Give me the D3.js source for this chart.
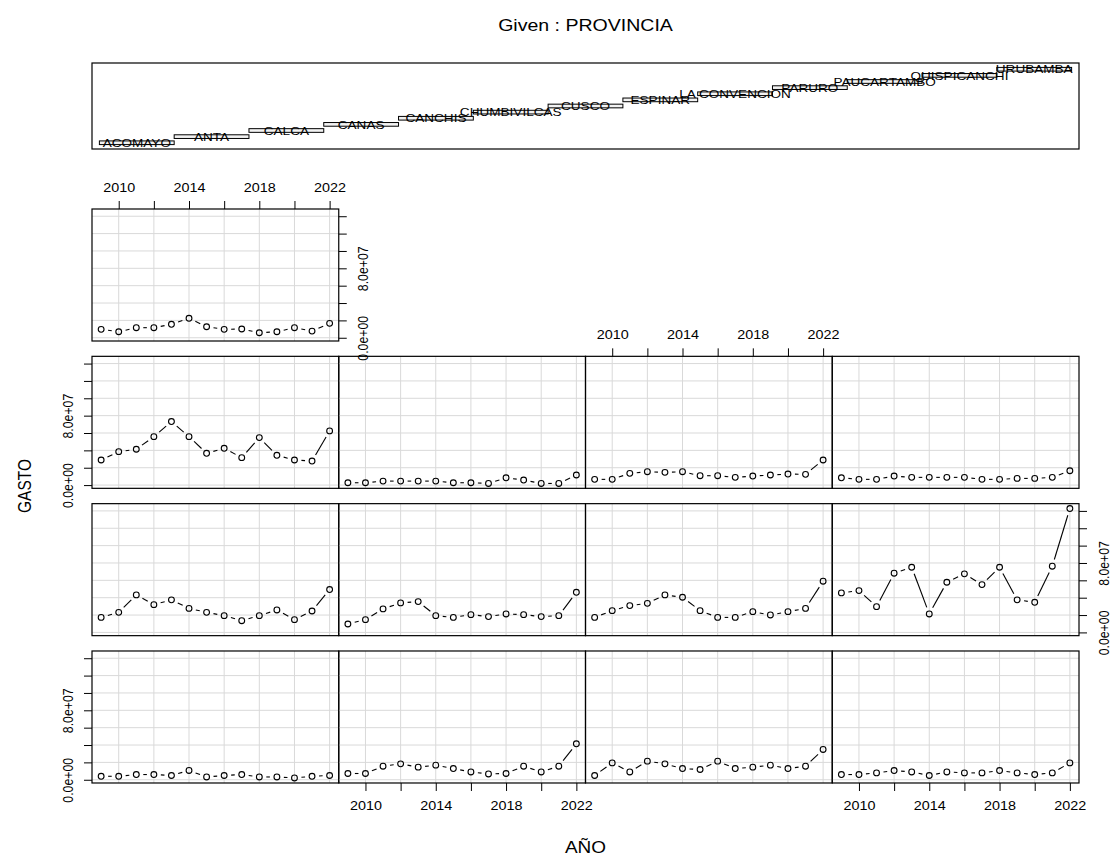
<!DOCTYPE html>
<html>
<head>
<meta charset="utf-8">
<script src="https://cdn.jsdelivr.net/npm/d3@7/dist/d3.min.js"></script>
<style>
    body { margin: 0; background: #ffffff; }
    svg { font-family: "Liberation Sans", Arial, sans-serif; }
</style>
</head>
<body>
<svg id="grafico" width="1111" height="856"></svg>
<script>
"use strict";

// provincias, dans l'ordre du coplot (gauche -> droite, bas -> haut)
var provincias = ["ACOMAYO", "ANTA", "CALCA", "CANAS", "CANCHIS", "CHUMBIVILCAS", "CUSCO",
    "ESPINAR", "LA CONVENCION", "PARURO", "PAUCARTAMBO", "QUISPICANCHI", "URUBAMBA"];

var anios = [2009, 2010, 2011, 2012, 2013, 2014, 2015, 2016, 2017, 2018, 2019, 2020, 2021, 2022];

// GASTO par année
var gastoAcomayo      = [4.0e6, 4.0e6, 6.0e6, 6.0e6, 4.9e6, 10.7e6, 3.2e6, 4.9e6, 6.0e6, 3.2e6, 3.2e6, 2.1e6, 4.0e6, 4.9e6];
var gastoAnta         = [7.2e6, 7.2e6, 15.6e6, 18.3e6, 14.5e6, 16.8e6, 12.9e6, 9.0e6, 6.7e6, 7.2e6, 15.6e6, 9.0e6, 15.6e6, 41.4e6];
var gastoCalca        = [4.9e6, 19.4e6, 9.0e6, 21.4e6, 18.3e6, 12.9e6, 11.8e6, 21.4e6, 12.9e6, 14.5e6, 16.8e6, 12.9e6, 15.6e6, 34.9e6];
var gastoCanas        = [6.0e6, 6.0e6, 7.9e6, 10.6e6, 9.0e6, 4.9e6, 9.0e6, 7.9e6, 7.9e6, 10.6e6, 7.9e6, 6.0e6, 7.9e6, 19.4e6];
var gastoCanchis      = [17.3e6, 23.1e6, 43.2e6, 32.0e6, 37.5e6, 27.7e6, 23.1e6, 19.3e6, 13.5e6, 19.3e6, 25.9e6, 14.7e6, 24.7e6, 49.4e6];
var gastoChumbivilcas = [9.7e6, 14.7e6, 27.1e6, 34.0e6, 35.5e6, 19.3e6, 17.3e6, 20.5e6, 18.2e6, 21.3e6, 20.5e6, 18.2e6, 19.3e6, 46.2e6];
var gastoCusco        = [17.3e6, 25.1e6, 30.9e6, 33.5e6, 43.2e6, 40.5e6, 25.1e6, 17.3e6, 17.3e6, 23.9e6, 20.1e6, 23.9e6, 27.7e6, 59.0e6];
var gastoEspinar      = [45.5e6, 48.2e6, 29.7e6, 68.2e6, 75.1e6, 21.3e6, 57.8e6, 67.5e6, 55.1e6, 75.1e6, 37.5e6, 34.7e6, 76.3e6, 142.7e6];
var gastoConvencion   = [28.9e6, 38.5e6, 41.3e6, 55.8e6, 73.2e6, 55.8e6, 36.6e6, 42.4e6, 31.6e6, 54.7e6, 34.3e6, 28.9e6, 27.7e6, 62.4e6];
var gastoParuro       = [2.7e6, 2.7e6, 4.6e6, 4.6e6, 4.6e6, 4.6e6, 2.7e6, 2.7e6, 1.9e6, 8.4e6, 5.8e6, 1.9e6, 1.9e6, 11.6e6];
var gastoPaucartambo  = [6.6e6, 6.6e6, 13.5e6, 15.4e6, 14.7e6, 15.4e6, 10.8e6, 10.8e6, 8.9e6, 10.4e6, 11.6e6, 12.7e6, 12.4e6, 28.9e6];
var gastoQuispicanchi = [8.4e6, 6.6e6, 6.6e6, 10.4e6, 8.9e6, 8.9e6, 8.9e6, 8.9e6, 6.6e6, 6.6e6, 7.7e6, 7.7e6, 8.9e6, 16.5e6];
var gastoUrubamba     = [9.7e6, 6.9e6, 11.6e6, 11.6e6, 15.5e6, 22.4e6, 12.7e6, 9.7e6, 10.1e6, 5.8e6, 6.9e6, 11.6e6, 7.7e6, 16.6e6];

var gastos = [gastoAcomayo, gastoAnta, gastoCalca, gastoCanas, gastoCanchis, gastoChumbivilcas, gastoCusco,
    gastoEspinar, gastoConvencion, gastoParuro, gastoPaucartambo, gastoQuispicanchi, gastoUrubamba];

// graduations
var marcasAnio = [2010, 2012, 2014, 2016, 2018, 2020, 2022];
var etiquetasAnio = [2010, 2014, 2018, 2022];
var marcasGasto = [0, 2e7, 4e7, 6e7, 8e7, 1e8, 1.2e8, 1.4e8];
var etiquetasGasto = [0, 8e7];


// mise en page
var izquierda = 92, derecha = 1079;
var nCol = 4, nFil = 4;
var anchoPanel = (derecha - izquierda) / nCol;
var arribaPaneles = 209, altoPanel = 132, separacion = 15.33;
var estira = 1.15;      // l'image d'origine est étirée horizontalement

var svg = d3.select("#grafico");

function formatoGasto(v) {
    // "8.0e+7" -> "8.0e+07" comme R
    return d3.format(".1e")(v).replace(/e([+-])(\d)$/, "e$10$2");
}

// échelles communes (extension de 4% comme R)
var extAnio = d3.extent(anios);
var padAnio = (extAnio[1] - extAnio[0]) * 0.04;
var x = d3.scaleLinear().domain([extAnio[0] - padAnio, extAnio[1] + padAnio]).range([0, anchoPanel]);

var todos = d3.merge(gastos);
var extGasto = d3.extent(todos);
var padGasto = (extGasto[1] - extGasto[0]) * 0.04;
var y = d3.scaleLinear().domain([extGasto[0] - padGasto, extGasto[1] + padGasto]).range([altoPanel, 0]);


// ---------- panneau "Given" ----------
var gX = izquierda, gY = 63, gW = derecha - izquierda, gH = 86;
var nInt = provincias.length;
var rangoInt = [0.5, nInt + 0.5];
var dInt = rangoInt[1] - rangoInt[0];
var limX = [rangoInt[0] + 0.03 * dInt, rangoInt[1] - 0.03 * dInt];
var dLimX = limX[1] - limX[0];
var xGiven = d3.scaleLinear()
    .domain([limX[0] - 0.04 * dLimX, limX[1] + 0.04 * dLimX])
    .range([gX, gX + gW]);
var yGiven = d3.scaleLinear()
    .domain([0.5 - 0.04 * nInt, 0.5 + nInt + 0.04 * nInt])
    .range([gY + gH, gY]);

var given = svg.append("g").attr("class", "given");
provincias.forEach(function(nom, i) {
    var niv = i + 1;
    given.append("rect")
        .attr("x", xGiven(niv - 0.5))
        .attr("y", yGiven(niv + 0.3))
        .attr("width", xGiven(niv + 0.5) - xGiven(niv - 0.5))
        .attr("height", yGiven(niv - 0.3) - yGiven(niv + 0.3))
        .attr("fill", "#f2f2f2")
        .attr("stroke", "#000")
        .attr("stroke-width", 1);
    given.append("text")
        .attr("transform", "translate(" + xGiven(niv) + "," + yGiven(niv) + ") scale(" + estira + ",1)")
        .attr("dy", "0.36em")
        .attr("text-anchor", "middle")
        .style("font-size", "11.8px")
        .text(nom);
});
given.append("rect")
    .attr("x", gX).attr("y", gY).attr("width", gW).attr("height", gH)
    .attr("fill", "none").attr("stroke", "#000").attr("stroke-width", 1.2);

svg.append("text")
    .attr("transform", "translate(" + (gX + gW / 2) + ",31) scale(" + estira + ",1)")
    .attr("text-anchor", "middle")
    .style("font-size", "17px")
    .text("Given : PROVINCIA");


// ---------- panneaux ----------
function posPanel(k) {
    var filaAbajo = Math.floor(k / nCol);
    var col = k % nCol;
    var fila = nFil - 1 - filaAbajo;   // 0 = en haut
    return { col: col, fila: fila,
        x: izquierda + col * anchoPanel,
        y: arribaPaneles + fila * (altoPanel + separacion) };
}

var hueco = 7;   // type = "b" : les segments s'arrêtent avant les points

gastos.forEach(function(serie, k) {
    var p = posPanel(k);
    var g = svg.append("g").attr("transform", "translate(" + p.x + "," + p.y + ")");

    // grille
    g.selectAll("line.gv").data(marcasAnio).enter().append("line")
        .attr("x1", function(d) { return x(d); }).attr("x2", function(d) { return x(d); })
        .attr("y1", 0).attr("y2", altoPanel)
        .attr("stroke", "#d9d9d9").attr("stroke-width", 1);
    g.selectAll("line.gh").data(marcasGasto).enter().append("line")
        .attr("x1", 0).attr("x2", anchoPanel)
        .attr("y1", function(d) { return y(d); }).attr("y2", function(d) { return y(d); })
        .attr("stroke", "#d9d9d9").attr("stroke-width", 1);

    // segments
    var pts = anios.map(function(a, i) { return [x(a), y(serie[i])]; });
    for (var i = 0; i < pts.length - 1; i++) {
        var dx = pts[i + 1][0] - pts[i][0], dy = pts[i + 1][1] - pts[i][1];
        var long = Math.sqrt(dx * dx + dy * dy);
        if (long <= 2 * hueco) continue;
        var ux = dx / long, uy = dy / long;
        g.append("line")
            .attr("x1", pts[i][0] + ux * hueco).attr("y1", pts[i][1] + uy * hueco)
            .attr("x2", pts[i + 1][0] - ux * hueco).attr("y2", pts[i + 1][1] - uy * hueco)
            .attr("stroke", "#000").attr("stroke-width", 1.1);
    }

    // points
    g.selectAll("circle").data(serie).enter().append("circle")
        .attr("cx", function(d, i) { return x(anios[i]); })
        .attr("cy", function(d) { return y(d); })
        .attr("r", 2.9)
        .attr("fill", "none").attr("stroke", "#000").attr("stroke-width", 1.1);

    // cadre
    g.append("rect").attr("width", anchoPanel).attr("height", altoPanel)
        .attr("fill", "none").attr("stroke", "#000").attr("stroke-width", 1.2);
});


// ---------- axes ----------
function ejeX(k, arriba) {
    var p = posPanel(k);
    var eje = (arriba ? d3.axisTop(x) : d3.axisBottom(x))
        .tickValues(marcasAnio)
        .tickSize(8).tickSizeOuter(0)
        .tickPadding(arriba ? 9 : 10.5)
        .tickFormat(function(d) { return etiquetasAnio.indexOf(d) >= 0 ? String(d) : ""; });
    var g = svg.append("g")
        .attr("transform", "translate(" + p.x + "," + (arriba ? p.y : p.y + altoPanel) + ")")
        .call(eje);
    g.select(".domain").remove();
    g.selectAll("line").attr("stroke", "#000");
    g.selectAll("text")
        .attr("fill", "#000")
        .attr("transform", "scale(" + estira + ",1)")
        .style("font-size", "12.5px")
        .style("font-family", "'Liberation Sans', Arial, sans-serif");
}

function ejeY(k, izq) {
    var p = posPanel(k);
    var eje = (izq ? d3.axisLeft(y) : d3.axisRight(y))
        .tickValues(marcasGasto)
        .tickSize(8).tickSizeOuter(0)
        .tickFormat(function(d) { return etiquetasGasto.indexOf(d) >= 0 ? formatoGasto(d) : ""; });
    var g = svg.append("g")
        .attr("transform", "translate(" + (izq ? p.x : p.x + anchoPanel) + "," + p.y + ")")
        .call(eje);
    g.select(".domain").remove();
    g.selectAll("line").attr("stroke", "#000");
    g.selectAll("text")
        .attr("x", null).attr("dy", null)
        .attr("fill", "#000")
        .attr("text-anchor", "middle")
        .attr("transform", "translate(" + (izq ? -19 : 29.5) + ",0) rotate(-90) scale(1," + estira + ")")
        .style("font-size", "12.3px")
        .style("font-family", "'Liberation Sans', Arial, sans-serif");
}

// axes alternés comme coplot
ejeX(12, true);     // URUBAMBA, en haut
ejeX(10, true);     // PAUCARTAMBO, en haut
ejeX(1, false);     // ANTA, en bas
ejeX(3, false);     // CANAS, en bas
ejeY(0, true);      // ACOMAYO, à gauche
ejeY(8, true);      // LA CONVENCION, à gauche
ejeY(12, false);    // URUBAMBA, à droite
ejeY(7, false);     // ESPINAR, à droite


// titres des axes
svg.append("text")
    .attr("transform", "translate(31," + (arribaPaneles + (nFil * altoPanel + (nFil - 1) * separacion) / 2 - 10) + ") rotate(-90) scale(1," + estira + ")")
    .attr("text-anchor", "middle")
    .style("font-size", "15.5px")
    .text("GASTO");

svg.append("text")
    .attr("transform", "translate(" + (izquierda + (derecha - izquierda) / 2) + ",853) scale(" + estira + ",1)")
    .attr("text-anchor", "middle")
    .style("font-size", "16.5px")
    .text("AÑO");
</script>
</body>
</html>
